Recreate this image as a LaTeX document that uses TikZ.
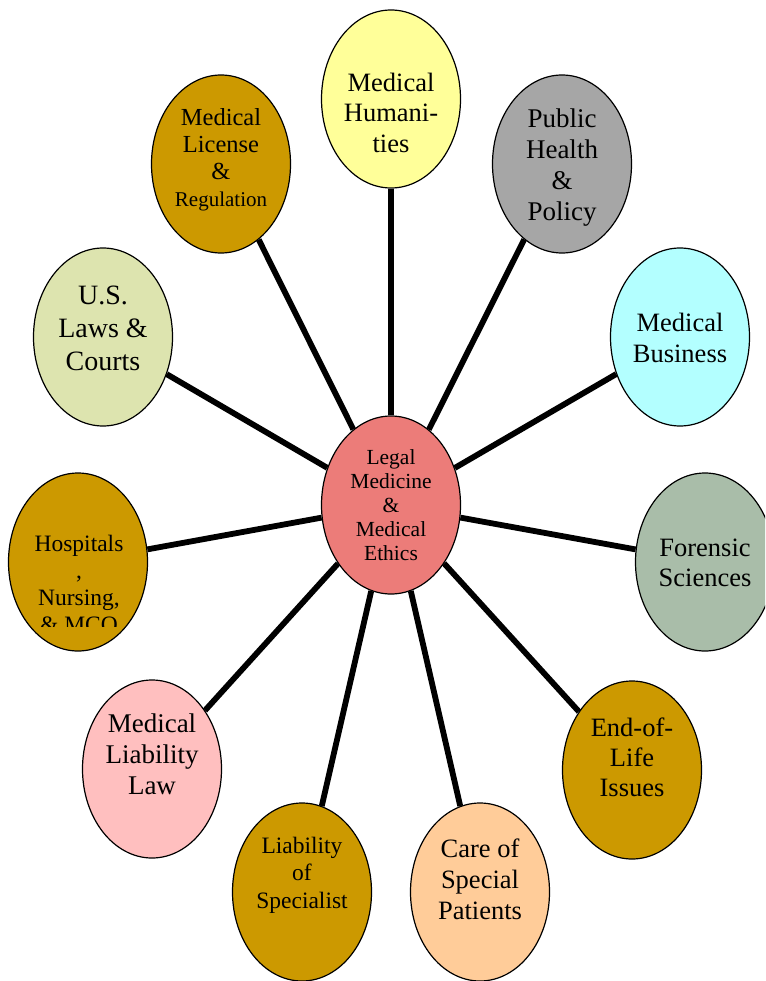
\documentclass[tikz,border=0pt]{standalone}
\usepackage{fontspec}
\setmainfont{Liberation Serif}
\usetikzlibrary{shapes.geometric, backgrounds}
\definecolor{hubred}{RGB}{236,124,121}
\definecolor{paleyellow}{RGB}{255,255,153}
\definecolor{midgray}{RGB}{166,166,166}
\definecolor{palecyan}{RGB}{179,255,255}
\definecolor{sage}{RGB}{169,189,169}
\definecolor{gold}{RGB}{204,153,0}
\definecolor{peach}{RGB}{255,204,153}
\definecolor{pink}{RGB}{255,191,191}
\definecolor{paleolive}{RGB}{221,228,175}

% text inside an oval, lifted by #1
\newcommand{\ovaltext}[2]{\raisebox{\dimexpr#1-0.37em\relax}[0pt][0pt]{\begin{tabular}{@{}c@{}}#2\end{tabular}}}

\tikzset{
    oval/.style={ellipse, draw=black, line width=1.2pt, minimum width=139pt,
                 minimum height=178pt, inner sep=0pt},
    spoke/.style={line width=5.8pt, black}
}

\begin{document}
\begin{tikzpicture}[x=1pt, y=-1pt]
    \useasboundingbox (0,0) rectangle (765,981);
    \clip (0,0) rectangle (765,981);

    % Center
    \node[oval, fill=hubred, font={\fontsize{21.5}{24}\selectfont}] (hub) at (391,505)
        {\ovaltext{0pt}{Legal\\Medicine\\\&\\Medical\\Ethics}};

    % Ring
    \node[oval, fill=paleyellow, font={\fontsize{26.5}{30.5}\selectfont}] (human) at (391,99)
        {\ovaltext{-13pt}{Medical\\Humani-\\ties}};
    \node[oval, fill=midgray, font={\fontsize{27}{31}\selectfont}] (public) at (562,164)
        {\ovaltext{0pt}{Public\\Health\\\&\\Policy}};
    \node[oval, fill=palecyan, font={\fontsize{26.5}{31}\selectfont}] (business) at (680,337)
        {\ovaltext{0pt}{Medical\\Business}};
    \node[oval, fill=sage, font={\fontsize{26.5}{30}\selectfont}] (forensic) at (705,562)
        {\ovaltext{0pt}{Forensic\\Sciences}};
    \node[oval, fill=gold, font={\fontsize{26.5}{30}\selectfont}] (endlife) at (632,770)
        {\ovaltext{13pt}{End-of-\\Life\\Issues}};
    \node[oval, fill=peach, font={\fontsize{26.5}{31}\selectfont}] (care) at (480,892)
        {\ovaltext{13pt}{Care of\\Special\\Patients}};
    \node[oval, fill=gold, font={\fontsize{23.5}{27.5}\selectfont}] (spec) at (302,892)
        {\ovaltext{19pt}{Liability\\of\\Specialist}};
    \node[oval, fill=pink, font={\fontsize{27}{31}\selectfont}] (liablaw) at (152,769)
        {\ovaltext{15pt}{Medical\\Liability\\Law}};
    \node[oval, fill=gold] (hosp) at (78,562) {};
    \node[oval, fill=paleolive, font={\fontsize{28}{33}\selectfont}] (uslaw) at (103,337)
        {\ovaltext{10pt}{U.S.\\Laws \&\\Courts}};
    \node[oval, fill=gold, font={\fontsize{24.5}{27}\selectfont}] (license) at (221,164)
        {\ovaltext{6.5pt}{Medical\\License\\\&\\{\fontsize{21}{22}\selectfont Regulation}}};

    % Hospitals text runs out of its box
    \begin{scope}
        \clip (0,470) rectangle (160,626);
        \node[align=center, font={\fontsize{23.5}{27}\selectfont}] (hosptext) at (79,584)
            {Hospitals\\,\\Nursing,\\\& MCO};
    \end{scope}

    % Spokes
    \begin{pgfonlayer}{background}
        \foreach \leaf in {human,public,business,forensic,endlife,care,spec,liablaw,hosp,uslaw,license}
            \draw[spoke] (hub) -- (\leaf);
    \end{pgfonlayer}
\end{tikzpicture}
\end{document}
